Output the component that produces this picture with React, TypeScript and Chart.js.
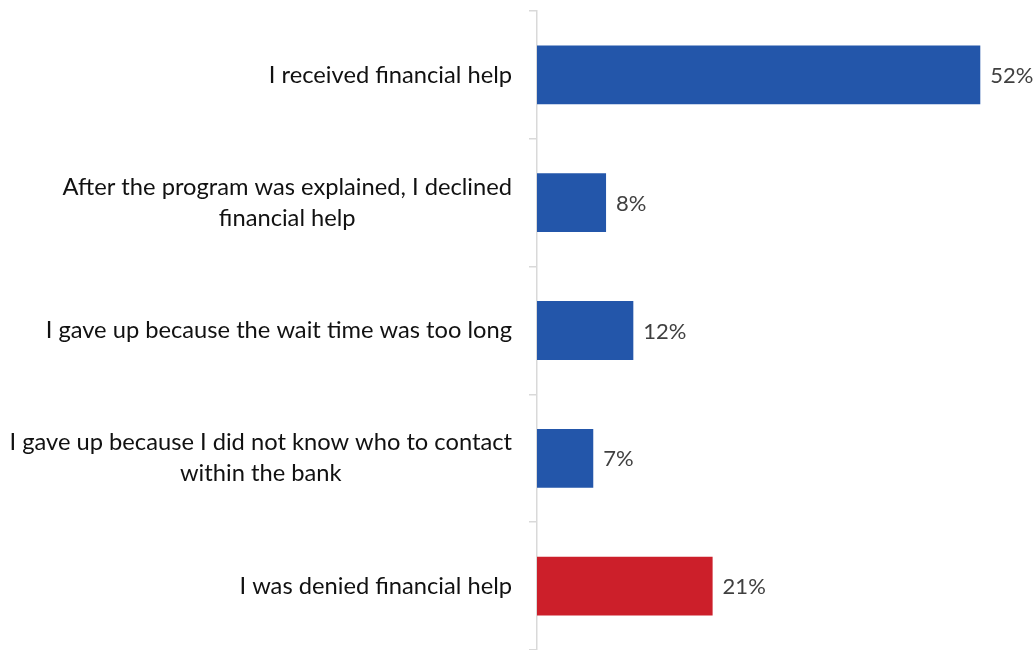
import React, { useEffect, useRef } from "react";
import { Chart, registerables } from "chart.js";

Chart.register(...registerables);

const categories: string[][] = [
  ["I received financial help"],
  ["After the program was explained, I declined", "financial help"],
  ["I gave up because the wait time was too long"],
  ["I gave up because I did not know who to contact", "within the bank"],
  ["I was denied financial help"],
];
const values: number[] = [52, 8.1, 11.3, 6.6, 20.6];
const barColors: string[] = ["#2356AA", "#2356AA", "#2356AA", "#2356AA", "#CC1F2A"];
const valueLabels: string[] = ["52%", "8%", "12%", "7%", "21%"];

const FONT = "Lato, 'Open Sans', sans-serif";

export default function App() {
  const ref = useRef<HTMLCanvasElement | null>(null);
  useEffect(() => {
    if (!ref.current) return;
    const labelPlugin = {
      id: "customLabels",
      afterDraw(chart: any) {
        const ctx = chart.ctx;
        const y = chart.scales.y;
        const meta = chart.getDatasetMeta(0);
        ctx.save();
        ctx.font = `23.7px ${FONT}`;
        ctx.fillStyle = "#111111";
        ctx.textBaseline = "middle";
        ctx.textAlign = "center";
        const right = y.right - 25;
        const lh = 31;
        categories.forEach((lines, i) => {
          const cy = y.getPixelForValue(i);
          const maxW = Math.max(...lines.map((l) => ctx.measureText(l).width));
          const cx = right - maxW / 2;
          const start = cy - ((lines.length - 1) * lh) / 2;
          lines.forEach((l, j) => ctx.fillText(l, cx, start + j * lh));
        });
        ctx.font = `22px ${FONT}`;
        ctx.fillStyle = "#404040";
        ctx.textAlign = "left";
        meta.data.forEach((bar: any, i: number) => {
          ctx.fillText(valueLabels[i], bar.x + 10, bar.y + 1);
        });
        ctx.restore();
      },
    };
    const chart = new Chart(ref.current, {
      type: "bar",
      data: {
        labels: categories.map((c) => c.join(" ")),
        datasets: [
          {
            data: values,
            backgroundColor: barColors,
            borderWidth: 0,
            categoryPercentage: 0.46,
            barPercentage: 1,
          },
        ],
      },
      options: {
        indexAxis: "y",
        animation: false,
        responsive: false,
        maintainAspectRatio: false,
        layout: { padding: { top: 11, bottom: 0, left: 0, right: 0 } },
        plugins: { legend: { display: false }, tooltip: { enabled: false } },
        scales: {
          x: { display: false, min: 0, max: 58.3 },
          y: {
            afterFit(scale: any) {
              scale.width = 537;
            },
            ticks: { display: false },
            grid: {
              offset: true,
              drawOnChartArea: false,
              drawTicks: true,
              tickLength: 8,
              color: "#D9D9D9",
              lineWidth: 1.5,
            },
            border: { display: true, color: "#D9D9D9", width: 1.5 },
          },
        },
      },
      plugins: [labelPlugin],
    });
    return () => chart.destroy();
  }, []);
  return (
    <div style={{ position: "fixed", left: 0, top: 0, width: 1034, height: 650, background: "#fff" }}>
      <canvas ref={ref} width={1034} height={650} />
    </div>
  );
}
